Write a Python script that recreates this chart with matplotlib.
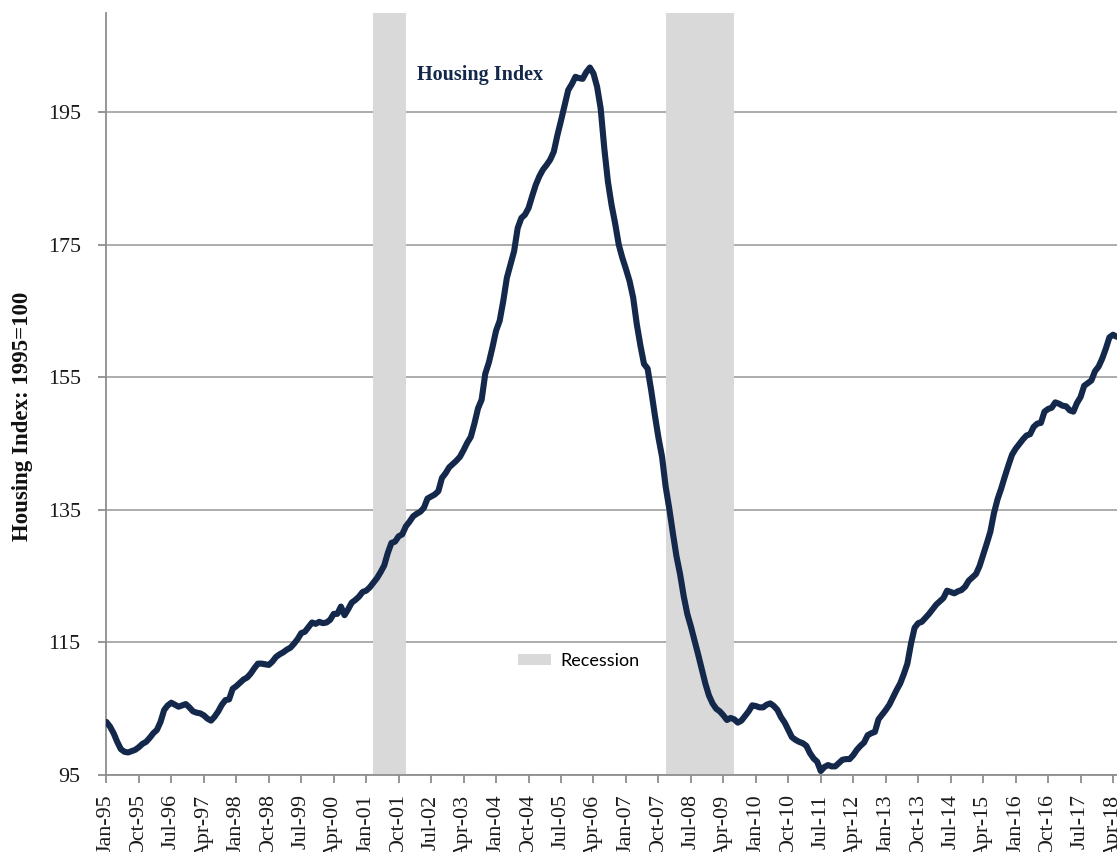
import matplotlib
matplotlib.use("Agg")
import matplotlib.pyplot as plt
import numpy as np
import pandas as pd

# monthly housing index, Jan-1995 onward (1995=100)
idx_1995 = [103.0, 102.3, 101.3, 100.0, 98.9, 98.5, 98.4, 98.6, 98.8, 99.2, 99.7, 100.0]
idx_1996 = [100.6, 101.3, 101.8, 103.0, 104.8, 105.5, 105.9, 105.6, 105.3, 105.5, 105.7, 105.2]
idx_1997 = [104.6, 104.4, 104.3, 104.0, 103.5, 103.2, 103.8, 104.6, 105.6, 106.3, 106.4, 108.0]
idx_1998 = [108.4, 108.9, 109.4, 109.7, 110.3, 111.1, 111.8, 111.8, 111.7, 111.6, 112.1, 112.8]
idx_1999 = [113.2, 113.5, 113.9, 114.2, 114.8, 115.5, 116.4, 116.6, 117.3, 118.0, 117.8, 118.1]
idx_2000 = [117.9, 118.0, 118.4, 119.3, 119.3, 120.4, 119.1, 120.0, 121.0, 121.4, 121.9, 122.6]
idx_2001 = [122.8, 123.3, 124.0, 124.7, 125.6, 126.6, 128.5, 130.0, 130.2, 131.0, 131.3, 132.5]
idx_2002 = [133.2, 134.0, 134.4, 134.7, 135.3, 136.7, 137.0, 137.3, 137.8, 139.8, 140.5, 141.4]
idx_2003 = [141.9, 142.4, 143.0, 144.0, 145.1, 146.0, 148.0, 150.3, 151.6, 155.5, 157.2, 159.5]
idx_2004 = [162.0, 163.5, 166.5, 170.0, 172.0, 174.0, 177.5, 179.0, 179.5, 180.5, 182.3, 184.0]
idx_2005 = [185.3, 186.3, 187.0, 187.8, 189.0, 191.5, 193.7, 196.0, 198.3, 199.2, 200.3, 200.1]
idx_2006 = [200.0, 201.0, 201.7, 200.8, 198.8, 195.5, 189.5, 184.5, 181.0, 178.2, 175.0, 173.0]
idx_2007 = [171.3, 169.5, 167.0, 163.0, 159.8, 157.0, 156.3, 153.0, 149.3, 145.9, 143.0, 138.5]
idx_2008 = [135.2, 131.5, 128.0, 125.3, 122.0, 119.3, 117.4, 115.3, 113.2, 111.0, 108.8, 107.0]
idx_2009 = [105.8, 105.0, 104.6, 104.0, 103.3, 103.6, 103.4, 102.9, 103.2, 103.9, 104.6, 105.5]
idx_2010 = [105.4, 105.2, 105.2, 105.6, 105.8, 105.4, 104.8, 103.7, 102.9, 101.8, 100.7, 100.3]
idx_2011 = [100.0, 99.8, 99.4, 98.3, 97.5, 97.0, 95.6, 96.2, 96.5, 96.3, 96.3, 96.8]
idx_2012 = [97.3, 97.4, 97.4, 98.0, 98.8, 99.4, 99.9, 101.0, 101.3, 101.5, 103.4, 104.1]
idx_2013 = [104.8, 105.6, 106.7, 107.8, 108.8, 110.2, 111.8, 114.8, 117.2, 117.9, 118.1, 118.7]
idx_2014 = [119.3, 120.0, 120.7, 121.2, 121.7, 122.8, 122.6, 122.4, 122.7, 122.9, 123.4, 124.3]
idx_2015 = [124.8, 125.3, 126.5, 128.2, 129.9, 131.7, 134.5, 136.6, 138.2, 140.0, 141.7, 143.3]
idx_2016 = [144.2, 144.9, 145.6, 146.2, 146.4, 147.5, 148.0, 148.1, 149.8, 150.2, 150.4, 151.2]
idx_2017 = [151.0, 150.7, 150.6, 150.0, 149.8, 151.1, 152.0, 153.7, 154.1, 154.5, 155.9, 156.6]
idx_2018 = [157.8, 159.3, 161.0, 161.4, 161.1]

recession_start = ["2001-03", "2007-12"]
recession_end = ["2001-12", "2009-07"]

yticks = [95, 115, 135, 155, 175, 195]

values = np.array(idx_1995 + idx_1996 + idx_1997 + idx_1998 + idx_1999 + idx_2000
                  + idx_2001 + idx_2002 + idx_2003 + idx_2004 + idx_2005 + idx_2006
                  + idx_2007 + idx_2008 + idx_2009 + idx_2010 + idx_2011 + idx_2012
                  + idx_2013 + idx_2014 + idx_2015 + idx_2016 + idx_2017 + idx_2018)
dates = pd.date_range("1995-01-01", periods=len(values), freq="MS")
x = np.arange(len(values))


def month_pos(s):
    d = pd.Timestamp(s + "-01")
    return (d.year - 1995) * 12 + (d.month - 1)


fig = plt.figure(figsize=(11.17, 8.52), dpi=100)
ax = fig.add_axes([106.4 / 1117, 1 - 775 / 852, 1 - 106.4 / 1117, (775 - 12.5) / 852])

navy = "#13284a"
grey = "#8e8e8e"

for s, e in zip(recession_start, recession_end):
    ax.axvspan(month_pos(s), month_pos(e), color="#d9d9d9", lw=0, zorder=1, label="Recession")

ax.plot(x, values, color=navy, lw=4.4, solid_joinstyle="round", solid_capstyle="round", zorder=3)

ax.set_xlim(0, 280.1)
ax.set_ylim(95, 210)

ax.set_yticks(yticks)
ax.yaxis.grid(True, color="#a6a6a6", lw=1.3, zorder=0)
ax.set_axisbelow(True)

tick_pos = x[::9]
ax.set_xticks(tick_pos)
ax.set_xticklabels([dates[i].strftime("%b-%y") for i in tick_pos], rotation=90, va="top")

serif = ["Liberation Serif", "DejaVu Serif"]
for lab in ax.get_xticklabels() + ax.get_yticklabels():
    lab.set_family(serif)
    lab.set_fontsize(15.8)
    lab.set_color("#1a1a1a")

ax.tick_params(axis="both", direction="out", length=6, width=1.3, color=grey)
ax.tick_params(axis="x", pad=8)
ax.tick_params(axis="y", pad=12.5)

for side in ["top", "right"]:
    ax.spines[side].set_visible(False)
for side in ["left", "bottom"]:
    ax.spines[side].set_color(grey)
    ax.spines[side].set_linewidth(1.3)

ax.set_ylabel("Housing Index: 1995=100", family=serif, fontsize=16.5, fontweight="bold",
              color="#111111")
ax.yaxis.set_label_coords(-0.0726, 0.4708)

ax.text(86.1, 200.6, "Housing Index", family=serif, fontsize=14.5, fontweight="bold",
        color=navy, ha="left", va="center")

handles, labels = ax.get_legend_handles_labels()
ax.legend(handles[:1], labels[:1], loc="center left", frameon=False,
          bbox_to_anchor=(518 / 1117, 1 - 661 / 852), bbox_transform=fig.transFigure,
          borderpad=0, borderaxespad=0, handlelength=1.85, handleheight=0.6,
          handletextpad=0.5, prop={"family": "Lato", "size": 13})

fig.savefig("out.png", dpi=100)
